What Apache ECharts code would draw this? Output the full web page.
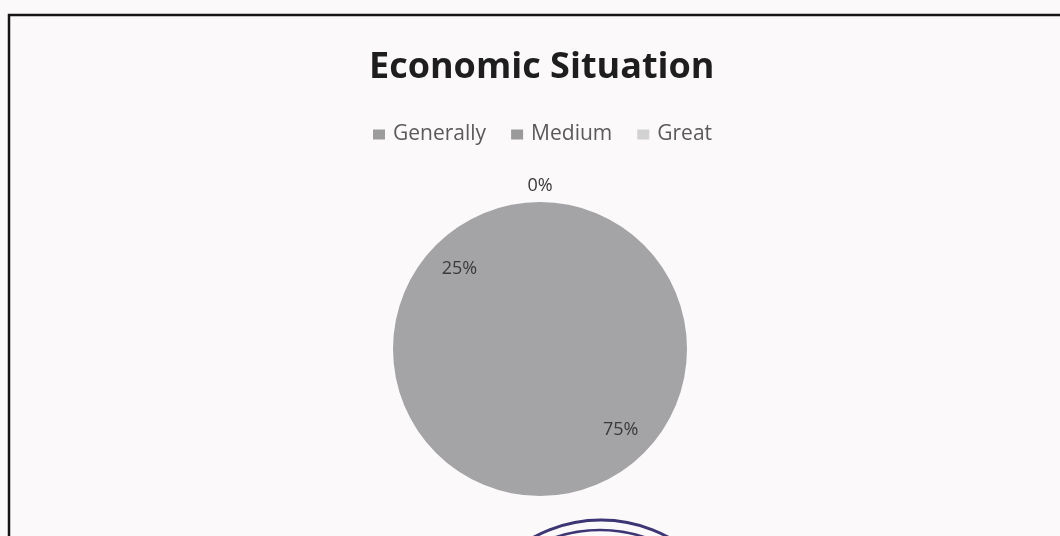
<!DOCTYPE html>
<html><head><meta charset="utf-8">
<script src="https://cdn.jsdelivr.net/npm/echarts@6/dist/echarts.min.js"></script>
<style>html,body{margin:0;padding:0;background:#fcf9fb;}#c{width:1060px;height:536px;}</style>
</head><body><div id="c"></div>
<script>
const categories = ['Generally', 'Medium', 'Great'];
const values = [0, 75, 25];
const sliceColors = ['#a4a4a6', '#a4a4a6', '#a4a4a6'];
const legendColors = ['#9c9c9c', '#9a9a9a', '#d2d2d2'];

const chart = echarts.init(document.getElementById('c'));
const labelStyle = { fontFamily: 'Open Sans', fontSize: 18, color: '#3a3a3a' };

chart.setOption({
  backgroundColor: '#fcf9fb',
  animation: false,
  title: {
    text: 'Economic Situation', left: 364, top: 45,
    textStyle: { fontFamily: 'Open Sans', fontWeight: 'bold', fontSize: 36, color: '#1e1e1e' }
  },
  legend: {
    top: 119, left: 368, itemWidth: 12, itemHeight: 10, itemGap: 25, icon: 'rect',
    textStyle: { fontFamily: 'Open Sans', fontSize: 21, color: '#5a5a5a', padding: [0, 0, 0, 3] },
    data: categories.map((n, i) => ({ name: n, itemStyle: { color: legendColors[i] } }))
  },
  graphic: [
    { type: 'rect', shape: { x: 9, y: 15, width: 1070, height: 560 }, style: { fill: 'none', stroke: '#151515', lineWidth: 2.5 }, silent: true },
    { type: 'circle', shape: { cx: 601, cy: 660, r: 140 }, style: { fill: 'none', stroke: '#3c3675', lineWidth: 3 }, silent: true },
    { type: 'circle', shape: { cx: 600, cy: 672, r: 142 }, style: { fill: 'none', stroke: '#3c3675', lineWidth: 2.5 }, silent: true }
  ],
  series: [
    {
      type: 'pie', center: [540, 349], radius: [0, 76], startAngle: 90, clockwise: true,
      silent: true, label: { show: false }, labelLine: { show: false },
      data: categories.map((n, i) => ({ name: n, value: values[i], itemStyle: { color: sliceColors[i] } }))
    },
    {
      type: 'pie', center: [540, 349], radius: [75, 147], startAngle: 90, clockwise: true,
      silent: true, minShowLabelAngle: 0.0001,
      label: Object.assign({ show: true, position: 'inside', formatter: '{d}%' }, labelStyle),
      labelLine: { show: false },
      data: categories.map((n, i) => ({ name: n, value: values[i], itemStyle: { color: sliceColors[i] }, label: { show: values[i] > 0 } }))
    },
    {
      type: 'pie', center: [540, 349], radius: [145, 175], startAngle: 90, clockwise: true,
      silent: true, minShowLabelAngle: 0,
      label: Object.assign({ show: true, position: 'inside', formatter: '{d}%' }, labelStyle),
      labelLine: { show: false },
      data: categories.map((n, i) => ({ name: n, value: values[i], itemStyle: { color: 'rgba(0,0,0,0)' }, label: { show: values[i] === 0 } }))
    }
  ]
});
</script></body></html>
